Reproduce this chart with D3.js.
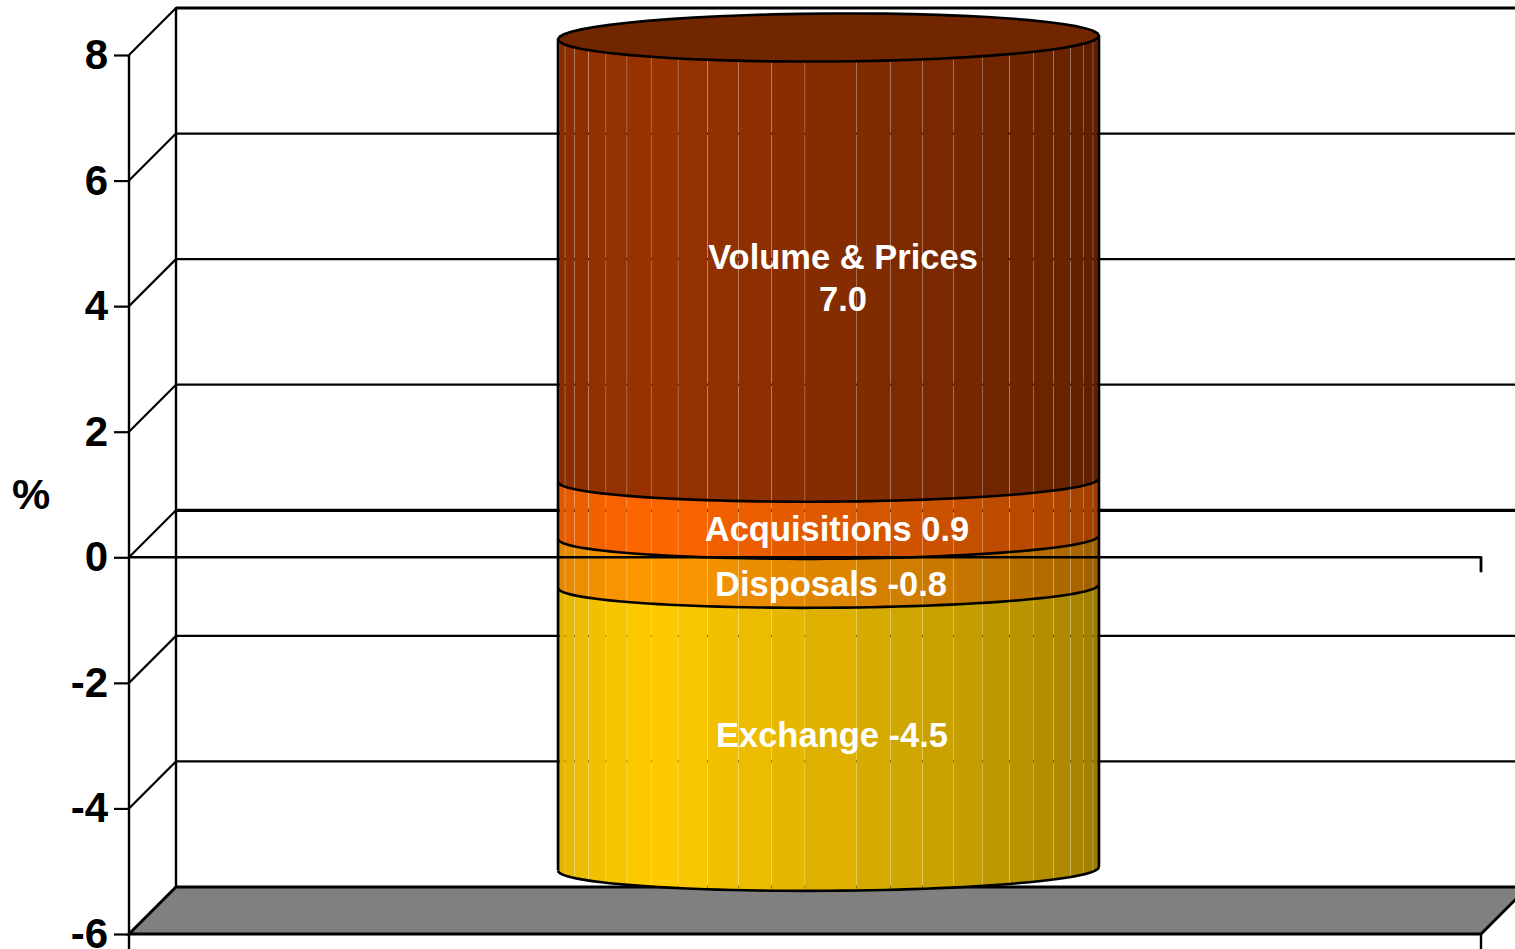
<!DOCTYPE html>
<html>
<head>
    <meta charset="utf-8">
    <title>Sales growth bridge</title>
    <style>
    html, body { margin: 0; padding: 0; background: #fff; overflow: hidden; }
    svg { display: block; }
    text { font-family: "Liberation Sans", Arial, sans-serif; font-weight: bold; }
    </style>
</head>
<body>
<script src="https://d3js.org/d3.v7.min.js"></script>
<script type="text/javascript">

// data
var categories = ["Growth"];
var yTicks = [-6, -4, -2, 0, 2, 4, 6, 8];
var seriesNames = ["Volume & Prices", "Acquisitions", "Disposals", "Exchange"];
var seriesValues = [7.05, 0.91, -0.78, -4.5];
var seriesLabels = [["Volume & Prices", "7.0"], ["Acquisitions 0.9"], ["Disposals -0.8"], ["Exchange -4.5"]];
var seriesColors = ["#993300", "#ff6600", "#ff9900", "#ffcc00"];

var width = 1515, height = 949;
var margin = {top: 55, left: 129, bottom: 15, right: 34};
var depth = 47;             // 3d offset of the back wall
var capRy = 24, arcRy = 21.5, tilt = 1.8;
var midOffset = 20;         // cylinder sits a bit behind the front plane

var x = d3.scaleBand().domain(categories).range([margin.left, width - margin.right]).paddingInner(0.6).paddingOuter(0.3);
var y = d3.scaleLinear().domain([-6, 8]).range([height - margin.bottom, margin.top]);

var svg = d3.select("body").append("svg")
    .attr("width", width)
    .attr("height", height);

var x0 = x.range()[0], x1 = x.range()[1];

// floor
svg.append("path")
    .attr("d", d3.line()([[x0, y(-6)], [x0 + depth, y(-6) - depth], [x1 + depth, y(-6) - depth], [x1, y(-6)]]) + "Z")
    .attr("fill", "#808080")
    .attr("stroke", "#000")
    .attr("stroke-width", 2.8);

// back wall gridlines and side wall diagonals
yTicks.forEach(function(t) {
    svg.append("line")
        .attr("x1", x0 + depth).attr("x2", width)
        .attr("y1", y(t) - depth).attr("y2", y(t) - depth)
        .attr("stroke", "#000")
        .attr("stroke-width", (t == 0 || t == 8) ? 3.2 : 2.2);
    svg.append("line")
        .attr("x1", x0).attr("x2", x0 + depth)
        .attr("y1", y(t)).attr("y2", y(t) - depth)
        .attr("stroke", "#000")
        .attr("stroke-width", 2.2);
});
svg.append("line")
    .attr("x1", x0 + depth).attr("x2", x0 + depth)
    .attr("y1", y(8) - depth - 1).attr("y2", y(-6) - depth)
    .attr("stroke", "#000").attr("stroke-width", 2.4);

// cylinder
var cx = x(categories[0]) + x.bandwidth() / 2 + depth / 2;
var rx = x.bandwidth() / 2;
var base = y(0) - midOffset;
var lift = y(0) - y(1);

function arcPoints(cy, ry, from, to) {
    return d3.range(0, 61).map(function(i) {
        var a = (from + (to - from) * i / 60) * Math.PI / 180;
        return [cx + rx * Math.sin(a), cy + ry * Math.cos(a) - tilt * Math.sin(a)];
    });
}
var line = d3.line();

// stack up from zero, positives and negatives apart
var bands = [];
var up = 0, down = 0;
[1, 0].forEach(function(i) {
    bands[i] = {top: base - (up + seriesValues[i]) * lift, bottom: base - up * lift, i: i};
    up += seriesValues[i];
});
[2, 3].forEach(function(i) {
    bands[i] = {top: base - down * lift, bottom: base - (down + seriesValues[i]) * lift, i: i};
    down += seriesValues[i];
});

// facet seams, in degrees from the front of the cylinder
var seams = d3.range(0, 12).map(function(k) { return -5 - 7.2 * k; }).reverse()
    .concat(d3.range(0, 12).map(function(k) { return 6 + 7.2 * k; }));
var edges = [-90].concat(seams, [90]);

function shade(a) {
    return a < -40 ? 1 - (-40 - a) / 50 * 0.14 : 1 - (a + 40) / 130 * 0.42;
}
function darken(c, m) {
    var r = d3.rgb(c);
    return d3.rgb(r.r * m, r.g * m, r.b * m).formatHex();
}

var defs = svg.append("defs");
bands.forEach(function(b, i) {
    var topRy = i == 0 ? capRy : arcRy;
    var outline = arcPoints(b.top, topRy, -90, 90).concat(arcPoints(b.bottom, arcRy, 90, -90));
    defs.append("clipPath").attr("id", "band" + i)
        .append("path").attr("d", line(outline) + "Z");

    var g = svg.append("g").attr("clip-path", "url(#band" + i + ")");
    g.selectAll("rect")
        .data(d3.pairs(edges))
        .enter().append("rect")
        .attr("x", function(d) { return cx + rx * Math.sin(d[0] * Math.PI / 180) + 0.14; })
        .attr("width", function(d) { return rx * (Math.sin(d[1] * Math.PI / 180) - Math.sin(d[0] * Math.PI / 180)) - 0.28; })
        .attr("y", b.top - 40)
        .attr("height", b.bottom - b.top + 80)
        .attr("fill", function(d) { return darken(seriesColors[i], shade((d[0] + d[1]) / 2)); });
});

// outlines
bands.slice(1).forEach(function(b) {
    svg.append("path")
        .attr("d", line(arcPoints(b.top, arcRy, -90, 90)))
        .attr("fill", "none").attr("stroke", "#000").attr("stroke-width", 2.6);
});
svg.append("path")
    .attr("d", line(arcPoints(bands[3].bottom, arcRy + 0.5, -90, 90)))
    .attr("fill", "none").attr("stroke", "#000").attr("stroke-width", 2.6);
svg.append("path")
    .attr("d", line(arcPoints(bands[0].top, capRy, 0, 360)) + "Z")
    .attr("fill", darken(seriesColors[0], 0.74))
    .attr("stroke", "#000").attr("stroke-width", 2.6);
[-1, 1].forEach(function(s) {
    svg.append("line")
        .attr("x1", cx + s * rx).attr("x2", cx + s * rx)
        .attr("y1", bands[0].top - s * tilt).attr("y2", bands[3].bottom - s * tilt)
        .attr("stroke", "#000").attr("stroke-width", 2.8);
});

// front plane zero line runs over the cylinder
svg.append("line")
    .attr("x1", x0).attr("x2", x1)
    .attr("y1", y(0)).attr("y2", y(0))
    .attr("stroke", "#000").attr("stroke-width", 2.4);
svg.append("line")
    .attr("x1", x1).attr("x2", x1)
    .attr("y1", y(0) - 1).attr("y2", y(0) + 15)
    .attr("stroke", "#000").attr("stroke-width", 2.8);
svg.append("line")
    .attr("x1", x1).attr("x2", x1)
    .attr("y1", y(-6)).attr("y2", height)
    .attr("stroke", "#000").attr("stroke-width", 2.4);

// y axis
var axis = svg.append("g")
    .attr("transform", "translate(" + x0 + ",0)")
    .call(d3.axisLeft(y).tickValues(yTicks).tickSize(15).tickPadding(6).tickFormat(function(d) { return d; }));
axis.select(".domain").remove();
axis.append("line").attr("y1", y(8)).attr("y2", height).attr("stroke", "#000").attr("stroke-width", 2.4);
axis.selectAll(".tick line").attr("stroke", "#000").attr("stroke-width", 2.2);
axis.selectAll(".tick text")
    .attr("fill", "#000")
    .attr("font-size", 42)
    .attr("font-family", "Liberation Sans")
    .attr("font-weight", "bold")
    .attr("dy", "0.32em");

svg.append("text")
    .attr("x", 31).attr("y", 494)
    .attr("dy", "0.36em")
    .attr("text-anchor", "middle")
    .attr("font-size", 43)
    .text("%");

// labels on the cylinder
var labelSpots = [[843, 257], [837, 529], [831, 584], [832, 735]];
seriesLabels.forEach(function(lines, i) {
    lines.forEach(function(t, j) {
        svg.append("text")
            .attr("x", labelSpots[i][0])
            .attr("y", labelSpots[i][1] + j * 42)
            .attr("dy", "0.36em")
            .attr("text-anchor", "middle")
            .attr("fill", "#fff")
            .attr("font-size", 34.5)
            .text(t);
    });
});

</script>
</body>
</html>
